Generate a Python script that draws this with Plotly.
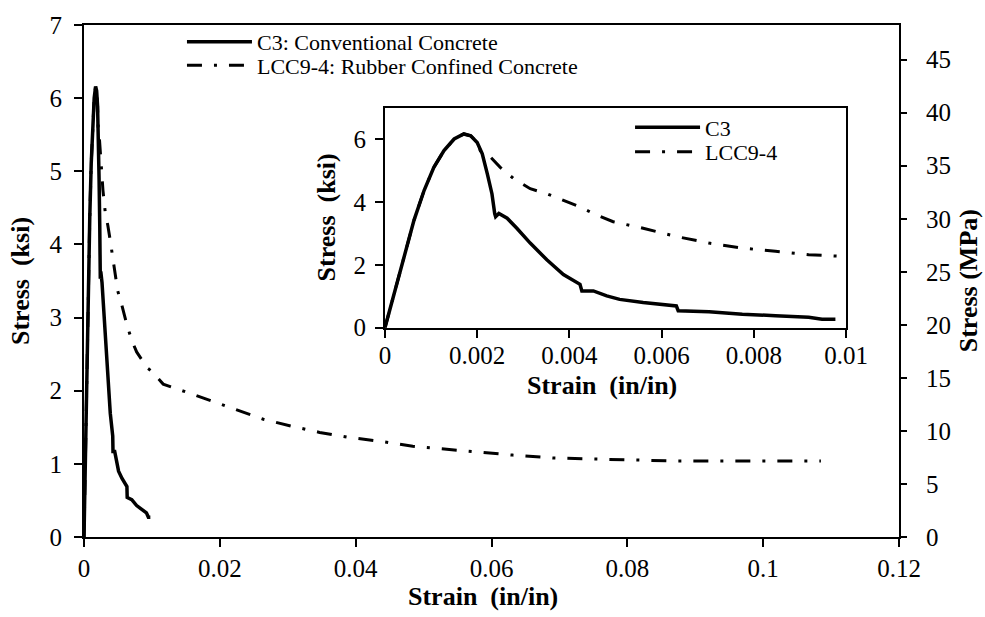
import plotly.graph_objects as go

# ---------------- data ----------------
c3_strain = [0, 0.0002, 0.00042, 0.00063, 0.00085, 0.00106, 0.00128, 0.0015, 0.00171,
             0.00186, 0.002, 0.00211, 0.00222, 0.00232, 0.00238, 0.0024, 0.00247, 0.00265,
             0.00286, 0.00315, 0.00351, 0.00387, 0.00423, 0.00427, 0.00452, 0.00481,
             0.00509, 0.0056, 0.00632, 0.00636, 0.00703, 0.00775, 0.00847, 0.00919,
             0.00948, 0.00977]
c3_stress = [0, 1.11, 2.27, 3.42, 4.37, 5.10, 5.63, 6.0, 6.16,
             6.10, 5.89, 5.53, 4.89, 4.26, 3.63, 3.53, 3.63, 3.48,
             3.16, 2.69, 2.16, 1.69, 1.38, 1.17, 1.17, 1.01,
             0.90, 0.80, 0.69, 0.54, 0.51, 0.43, 0.38, 0.33,
             0.27, 0.27]

lcc_strain = [0, 0.0002, 0.00042, 0.00063, 0.00085, 0.00106, 0.00128, 0.0015, 0.00171,
              0.00186, 0.002, 0.00207, 0.00229, 0.0025, 0.00279, 0.00315, 0.00351,
              0.00387, 0.00423, 0.00459, 0.00495, 0.0056, 0.00632, 0.00703, 0.00775,
              0.00847, 0.00919, 0.00991, 0.01166, 0.0151, 0.0185, 0.022, 0.0264,
              0.0308, 0.0347, 0.0391, 0.0435, 0.0484, 0.0533, 0.0577, 0.0631, 0.069,
              0.0778, 0.0867, 0.0975, 0.1085]
lcc_stress = [0, 1.11, 2.27, 3.42, 4.37, 5.10, 5.63, 6.0, 6.16,
              6.10, 5.89, 5.62, 5.42, 5.10, 4.74, 4.42, 4.26,
              4.05, 3.84, 3.58, 3.37, 3.16, 2.90, 2.69, 2.53,
              2.43, 2.32, 2.27, 2.09, 1.98, 1.87, 1.75, 1.61,
              1.51, 1.43, 1.36, 1.31, 1.24, 1.20, 1.16, 1.12, 1.08,
              1.06, 1.04, 1.04, 1.04]

c3_name_main = "C3: Conventional Concrete"
lcc_name_main = "LCC9-4: Rubber Confined Concrete"
c3_name_inset = "C3"
lcc_name_inset = "LCC9-4"

main_xticks = [0, 0.02, 0.04, 0.06, 0.08, 0.1, 0.12]
main_xlabels = ["0", "0.02", "0.04", "0.06", "0.08", "0.1", "0.12"]
ksi_ticks = [0, 1, 2, 3, 4, 5, 6, 7]
mpa_ticks = [0, 5, 10, 15, 20, 25, 30, 35, 40, 45]
inset_xticks = [0, 0.002, 0.004, 0.006, 0.008, 0.01]
inset_xlabels = ["0", "0.002", "0.004", "0.006", "0.008", "0.01"]
inset_yticks = [0, 2, 4, 6]
KSI_TO_MPA = 6.895
KSI_MAX = 7

FONT = "Liberation Serif, Times New Roman, serif"
DASH = "15px,12px,3px,12px"

fig = go.Figure()

fig.add_trace(go.Scatter(x=c3_strain, y=c3_stress, mode="lines", name=c3_name_main,
                         line=dict(color="black", width=3.5), xaxis="x", yaxis="y",
                         legend="legend"))
fig.add_trace(go.Scatter(x=lcc_strain, y=lcc_stress, mode="lines", name=lcc_name_main,
                         line=dict(color="black", width=3, dash=DASH), xaxis="x", yaxis="y",
                         legend="legend2"))
fig.add_trace(go.Scatter(x=c3_strain, y=c3_stress, mode="lines", name=c3_name_inset,
                         line=dict(color="black", width=3.5), xaxis="x2", yaxis="y2",
                         legend="legend3"))
fig.add_trace(go.Scatter(x=lcc_strain, y=lcc_stress, mode="lines", name=lcc_name_inset,
                         line=dict(color="black", width=3, dash=DASH), xaxis="x2", yaxis="y2",
                         legend="legend4"))
# the same LCC9-4 curve expressed in MPa, on the secondary (right) axis, kept invisible:
# it only makes the MPa axis exist
fig.add_trace(go.Scatter(x=lcc_strain, y=[s * KSI_TO_MPA for s in lcc_stress], mode="lines",
                         line=dict(color="rgba(0,0,0,0)", width=0), xaxis="x", yaxis="y3",
                         showlegend=False, hoverinfo="skip"))

tickfont = dict(family=FONT, size=25, color="black")
legfont = dict(family=FONT, size=22, color="black")

axis_common = dict(showgrid=False, zeroline=False, showline=True, linecolor="black",
                   linewidth=2, ticks="outside", tickcolor="black", tickwidth=2,
                   tickfont=tickfont)

fig.update_layout(
    width=985, height=617,
    margin=dict(l=84, r=86, t=16, b=80),
    paper_bgcolor="white", plot_bgcolor="white",
    showlegend=True,
    xaxis=dict(axis_common, domain=[0, 1], range=[0, 0.12], tickvals=main_xticks,
               ticktext=main_xlabels, ticklen=8, mirror=True, anchor="y",
               ticklabelstandoff=0),
    yaxis=dict(axis_common, domain=[0, 1], range=[0, KSI_MAX], tickvals=ksi_ticks,
               ticklen=8, anchor="x", ticklabelstandoff=7),
    yaxis3=dict(axis_common, overlaying="y", side="right", anchor="x",
                range=[0, KSI_MAX * KSI_TO_MPA], tickvals=mpa_ticks, ticklen=6,
                ticklabelstandoff=14),
    xaxis2=dict(axis_common, domain=[0.3693, 0.935], range=[0, 0.01],
                tickvals=inset_xticks, ticktext=inset_xlabels, ticklen=8,
                mirror=True, anchor="y2", ticklabelstandoff=-4),
    yaxis2=dict(axis_common, domain=[0.4088, 0.8388], range=[0, KSI_MAX],
                tickvals=inset_yticks, ticklen=8, mirror=True, anchor="x2",
                ticklabelstandoff=4),
    legend=dict(x=0.1202, y=0.967, xanchor="left", yanchor="middle", font=legfont,
                bgcolor="rgba(0,0,0,0)", itemwidth=65, borderwidth=0),
    legend2=dict(x=0.1202, y=0.921, xanchor="left", yanchor="middle", font=legfont,
                 bgcolor="rgba(0,0,0,0)", itemwidth=65, borderwidth=0),
    legend3=dict(x=0.670, y=0.800, xanchor="left", yanchor="middle", font=legfont,
                 bgcolor="rgba(0,0,0,0)", itemwidth=65, borderwidth=0),
    legend4=dict(x=0.670, y=0.752, xanchor="left", yanchor="middle", font=legfont,
                 bgcolor="rgba(0,0,0,0)", itemwidth=65, borderwidth=0),
)

titlefont = dict(family=FONT, size=26, color="black")
def title(text, x, y, angle=0):
    fig.add_annotation(text="<b>" + text + "</b>", x=x, y=y, xref="paper", yref="paper",
                       xanchor="center", yanchor="middle", showarrow=False,
                       textangle=angle, font=titlefont)

title("Strain  (in/in)", 0.489, -0.117)
title("Stress  (ksi)", -0.0785, 0.5, -90)
title("Stress (MPa)", 1.085, 0.5, -90)
title("Strain  (in/in)", 0.636, 0.2950)
title("Stress  (ksi)", 0.298, 0.624, -90)

fig.write_html("out.html")
